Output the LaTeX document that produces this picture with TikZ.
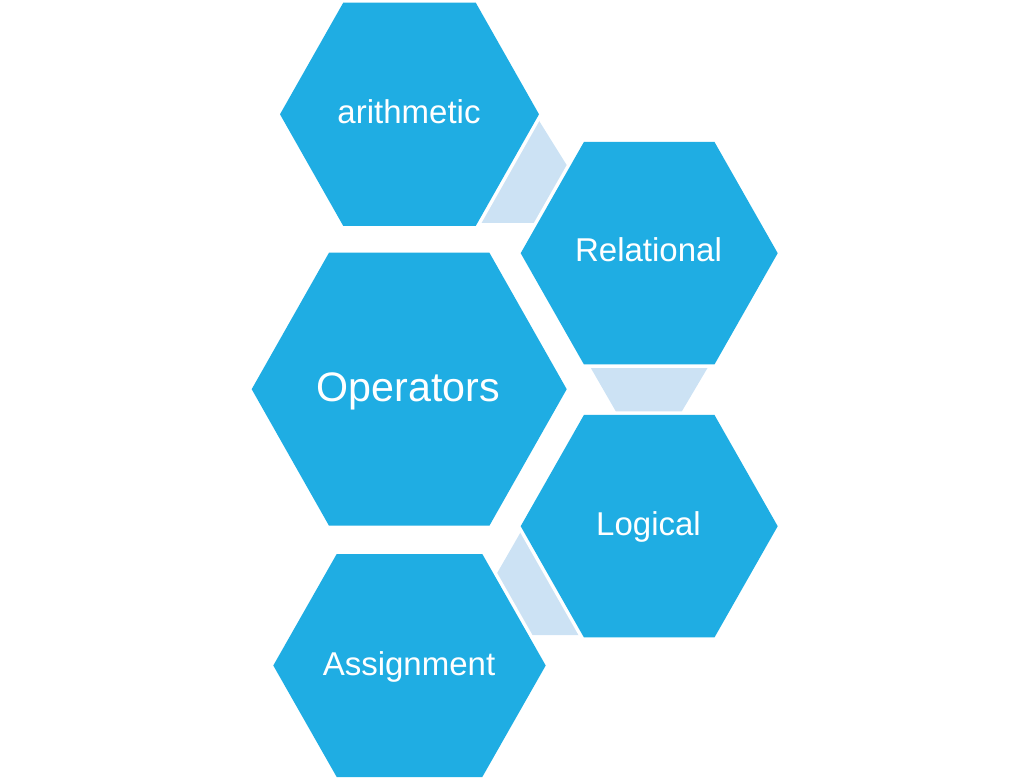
\documentclass[tikz,border=0pt]{standalone}
\usepackage{fontspec}
\setmainfont{Liberation Sans}
\definecolor{hexblue}{RGB}{31,173,227}
\definecolor{linkblue}{RGB}{204,226,244}
\tikzset{
  hexbody/.style={fill=hexblue},
  hexhalo/.style={draw=white, line width=5.25pt, line join=miter},
  linkshape/.style={fill=linkblue},
  smalllabel/.style={text=white, inner sep=0pt, anchor=base, font=\fontsize{24.75}{30}\selectfont},
  biglabel/.style={text=white, inner sep=0pt, anchor=base, font=\fontsize{30.9}{37}\selectfont}
}
% #1 style, #2 cx, #3 cy, #4 half width, #5 half top edge, #6 half height
\newcommand\hexagonpath[6]{%
  \path[#1] ({#2-#4},{#3}) -- ({#2-#5},{#3-#6}) -- ({#2+#5},{#3-#6}) -- ({#2+#4},{#3})
    -- ({#2+#5},{#3+#6}) -- ({#2-#5},{#3+#6}) -- cycle;}
\begin{document}
\begin{tikzpicture}[x=0.75pt,y=-0.75pt]
\useasboundingbox (0,0) rectangle (1028,780);
% connectors (drawn beneath)
\path[linkshape] (537,117.5) -- (569.6,169.7) -- (537.7,223) -- (477.2,223) -- cycle;
\path[linkshape] (588.7,364.3) -- (709.7,364.3) -- (679.7,415) -- (617.9,415) -- cycle;
\path[linkshape] (522.4,529.1) -- (495.2,576.4) -- (528.6,635) -- (582,635) -- cycle;
% white halos
\hexagonpath{hexhalo}{409.5}{114.3}{129.5}{66.2}{111.7}
\hexagonpath{hexhalo}{649.2}{253.2}{128.5}{65.3}{111.2}
\hexagonpath{hexhalo}{409.2}{389.2}{157.5}{80.2}{136.5}
\hexagonpath{hexhalo}{649.2}{526.2}{128.5}{65.3}{111.2}
\hexagonpath{hexhalo}{409.5}{665.5}{136.2}{72.8}{111.5}
% hexagons
\hexagonpath{hexbody}{409.5}{114.3}{129.5}{66.2}{111.7}
\hexagonpath{hexbody}{649.2}{253.2}{128.5}{65.3}{111.2}
\hexagonpath{hexbody}{409.2}{389.2}{157.5}{80.2}{136.5}
\hexagonpath{hexbody}{649.2}{526.2}{128.5}{65.3}{111.2}
\hexagonpath{hexbody}{409.5}{665.5}{136.2}{72.8}{111.5}
% labels
\node[smalllabel] (arith) at (409,123.3) {arithmetic};
\node[smalllabel] (rel) at (648.5,261.7) {Relational};
\node[biglabel] (ops) at (408.5,401.5) {Operators};
\node[smalllabel] (logic) at (648.5,535.7) {Logical};
\node[smalllabel] (assign) at (409,675) {Assignment};
\end{tikzpicture}
\end{document}
